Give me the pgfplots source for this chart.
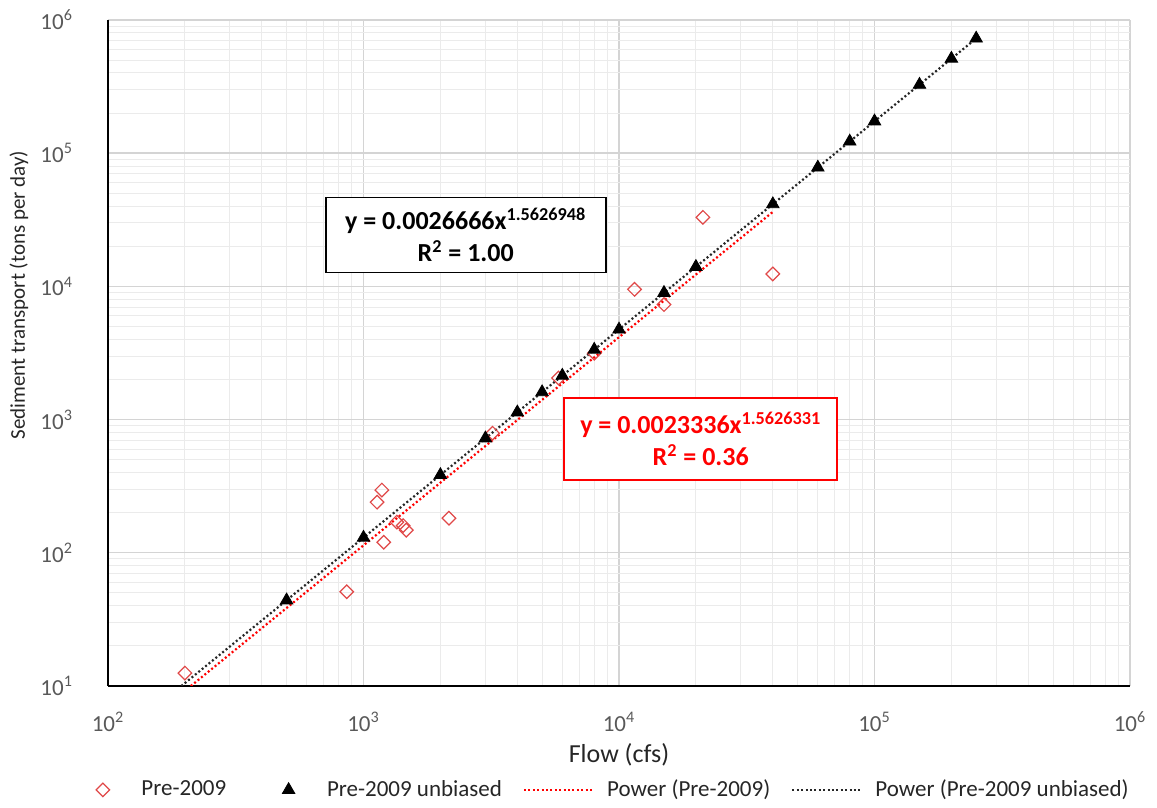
\documentclass[border=0pt]{standalone}
\usepackage{pgfplots}
\pgfplotsset{compat=1.18}
\usepackage{fontspec}
\setmainfont{Carlito}
\definecolor{tickgray}{HTML}{595959}
\definecolor{majgrid}{HTML}{D4D4D4}
\definecolor{mingrid}{HTML}{EBEBEB}
\definecolor{exred}{HTML}{FF0000}
\definecolor{diamred}{HTML}{E04848}
\pgfplotsset{
  lineleg/.style={legend image code/.code={\path (0pt,0pt) (39pt,0pt);\draw[##1] (0pt,0pt) -- (34.5pt,0pt);}},
  markleg/.style={legend image code/.code={\path (0pt,0pt) (37.5pt,0pt);\path[##1] plot[only marks] coordinates {(20.5pt,0pt)};}}
}
\begin{document}
\begin{tikzpicture}
\begin{axis}[name=ax, scale only axis, width=511pt, height=333pt,
  xmode=log, ymode=log, xmin=100, xmax=1e6, ymin=10, ymax=1e6,
  xtick={1e2,1e3,1e4,1e5,1e6},
  xticklabels={10\textsuperscript{2},10\textsuperscript{3},10\textsuperscript{4},10\textsuperscript{5},10\textsuperscript{6}},
  ytick={1e1,1e2,1e3,1e4,1e5,1e6},
  yticklabels={10\textsuperscript{1},10\textsuperscript{2},10\textsuperscript{3},10\textsuperscript{4},10\textsuperscript{5},10\textsuperscript{6}},
  minor xtick={200,300,400,500,600,700,800,900,2000,3000,4000,5000,6000,7000,8000,9000,20000,30000,40000,50000,60000,70000,80000,90000,200000,300000,400000,500000,600000,700000,800000,900000},
  minor ytick={20,30,40,50,60,70,80,90,200,300,400,500,600,700,800,900,2000,3000,4000,5000,6000,7000,8000,9000,20000,30000,40000,50000,60000,70000,80000,90000,200000,300000,400000,500000,600000,700000,800000,900000},
  grid=both,
  major grid style={majgrid, line width=0.7pt},
  minor grid style={mingrid, line width=0.5pt},
  major tick length=0pt, minor tick length=0pt,
  axis x line*=bottom, axis y line*=left,
  axis line style={black, line width=0.8pt, -},
  ticklabel style={tickgray, font=\fontsize{11.5}{13}\selectfont},
  xticklabel style={anchor=center, at={(0,0)}, yshift=-18pt},
  yticklabel style={anchor=east, xshift=-14pt},
  xlabel={Flow (cfs)}, ylabel={Sediment transport (tons per day)},
  xlabel style={at={(0.5,-0.1036)}, anchor=center, font=\fontsize{13}{15}\selectfont, color=black!85},
  ylabel style={at={(-0.0871,0.587)}, anchor=center, font=\fontsize{10.5}{12}\selectfont, color=black!85},
  legend columns=4,
  legend cell align=left,
  legend style={at={(0.5,-0.156)}, anchor=center, xshift=-11pt, draw=none, fill=none,
    font=\fontsize{11.5}{13}\selectfont, text=black!85,
    /tikz/every even column/.append style={column sep=8.5pt}},
]
\addplot[only marks, mark=square, mark size=2.4pt, diamred, line width=0.6pt,
  every mark/.append style={rotate=45}, markleg] coordinates {
  (200,12.5) (860,51) (1130,240) (1180,296) (1200,120) (1350,170) (1430,160)
  (1470,148) (2160,182) (3200,790) (5800,2050) (8000,3150) (11500,9500)
  (15000,7300) (21300,33000) (40000,12400)};
\addlegendentry{Pre-2009}
\addplot[only marks, mark=triangle*, mark size=3.6pt, black, markleg] coordinates {
  (500,44.0) (1000,130.0) (2000,384.1) (3000,723.7) (4000,1134) (5000,1608)
  (6000,2138) (8000,3352) (10000,4751) (15000,8949) (20000,14034) (40000,41450)
  (60000,78130) (80000,122470) (100000,173590) (150000,327000) (200000,512700)
  (250000,726500)};
\addlegendentry{Pre-2009 unbiased}
\addplot[exred, line width=1.1pt, dash pattern=on 1pt off 1.2pt, lineleg] coordinates {
  (211,10) (40000,36260)};
\addlegendentry{Power (Pre-2009)}
\addplot[black!85, line width=1.1pt, dash pattern=on 1pt off 1.2pt, lineleg] coordinates {
  (193.7,10) (250000,726500)};
\addlegendentry{Power (Pre-2009 unbiased)}
\node[draw=black, line width=0.8pt, fill=white, align=center,
  minimum width=140pt, minimum height=37.5pt,
  font=\bfseries\fontsize{13}{16}\selectfont]
  at (rel axis cs:0.350,0.677)
  {y = 0.0026666x\textsuperscript{1.5626948}\\R\textsuperscript{2} = 1.00};
\node[draw=exred, line width=0.8pt, fill=white, text=exred, align=center,
  minimum width=136.5pt, minimum height=41pt,
  font=\bfseries\fontsize{13}{16}\selectfont]
  at (rel axis cs:0.580,0.371)
  {y = 0.0023336x\textsuperscript{1.5626331}\\R\textsuperscript{2} = 0.36};
\end{axis}
\pgfresetboundingbox
\path[use as bounding box] ([shift={(-54pt,-61pt)}]ax.south west) rectangle ([shift={(524.5pt,343pt)}]ax.south west);
\end{tikzpicture}
\end{document}
